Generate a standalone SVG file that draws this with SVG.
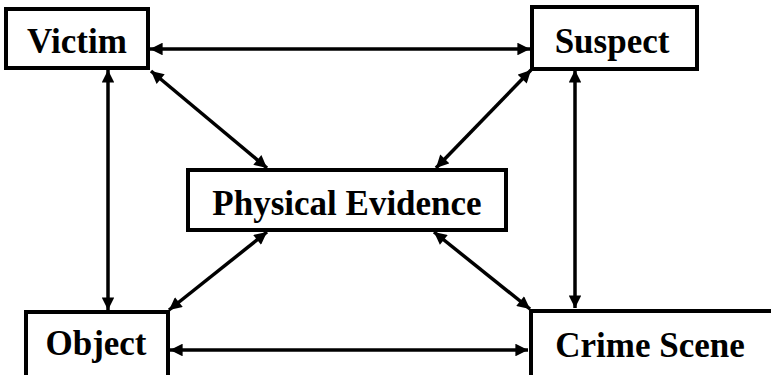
<svg xmlns="http://www.w3.org/2000/svg" width="771" height="375" viewBox="0 0 771 375">
<style>
.box{fill:#fff;stroke:#000;stroke-width:4}
.lbl{font-family:"Liberation Serif","Times New Roman",serif;font-weight:bold;font-size:35px;fill:#000}
.con{stroke:#000;stroke-width:3.5;fill:none;marker-start:url(#ah);marker-end:url(#ah)}
</style>
<defs>
<marker id="ah" viewBox="0 0 10 10" refX="10" refY="5" markerWidth="4" markerHeight="3.6" orient="auto-start-reverse" markerUnits="strokeWidth">
<path d="M0,0 L10,5 L0,10 Z" fill="#000"/>
</marker>
</defs>
<rect width="771" height="375" fill="#fff"/>
<g id="connectors">
<line class="con" x1="150" y1="49" x2="530" y2="49"/>
<line class="con" x1="108" y1="70" x2="108" y2="310"/>
<line class="con" x1="575" y1="70" x2="575" y2="308"/>
<line class="con" x1="170" y1="350" x2="528" y2="350"/>
<line class="con" x1="151" y1="71" x2="267" y2="168"/>
<line class="con" x1="531" y1="70" x2="436" y2="168"/>
<line class="con" x1="267" y1="232" x2="169" y2="310"/>
<line class="con" x1="434" y1="232" x2="530" y2="309"/>
</g>
<g id="victim">
<rect class="box" x="6" y="9" width="142" height="59"/>
<text class="lbl" x="77" y="53" text-anchor="middle">Victim</text>
</g>
<g id="suspect">
<rect class="box" x="532" y="7" width="165" height="62"/>
<text class="lbl" x="612" y="53" text-anchor="middle">Suspect</text>
</g>
<g id="physical-evidence">
<rect class="box" x="188" y="170" width="318" height="60"/>
<text class="lbl" x="347" y="215" text-anchor="middle">Physical Evidence</text>
</g>
<g id="object">
<rect class="box" x="26" y="312" width="142" height="70"/>
<text class="lbl" x="96" y="355" text-anchor="middle">Object</text>
</g>
<g id="crime-scene">
<rect class="box" x="531" y="311" width="250" height="70"/>
<text class="lbl" x="650" y="357" text-anchor="middle">Crime Scene</text>
</g>
</svg>
